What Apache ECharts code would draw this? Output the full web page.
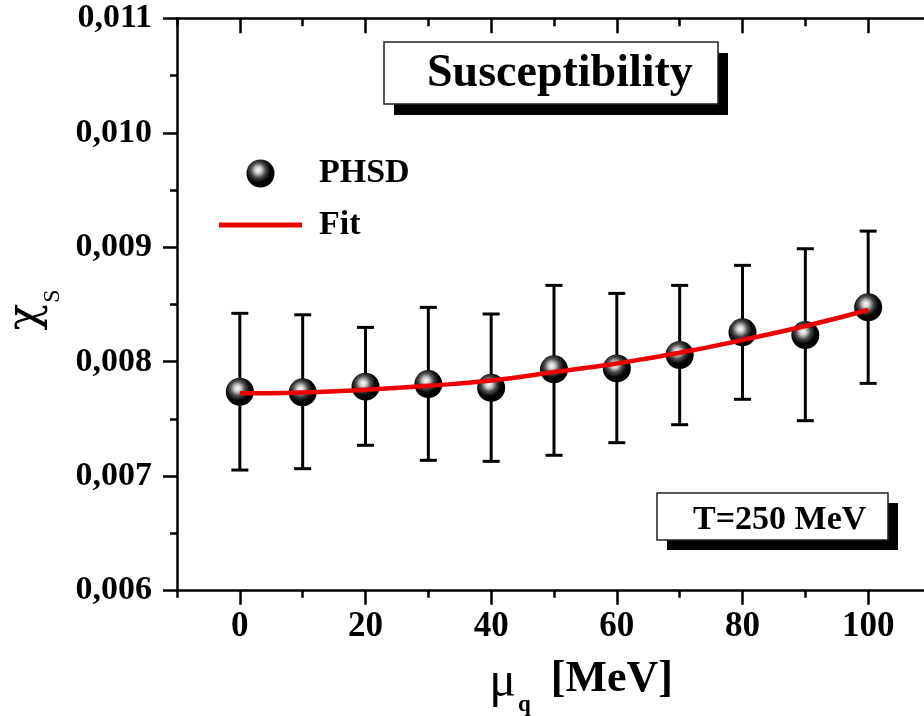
<!DOCTYPE html>
<html>
<head>
<meta charset="utf-8">
<script src="https://cdn.jsdelivr.net/npm/echarts@6/dist/echarts.min.js"></script>
<style>
html,body{margin:0;padding:0;background:#fff;}
#chart{width:924px;height:716px;}
</style>
</head>
<body>
<div id="chart"></div>
<script>
// ---- data ----
const muValues   = [0, 10, 20, 30, 40, 50, 60, 70, 80, 90, 100];
const chiValues  = [0.007738, 0.007733, 0.007782, 0.007805, 0.007773, 0.007934, 0.007942, 0.008059, 0.008257, 0.008233, 0.008475];
const errUpper   = [0.008423, 0.008410, 0.008300, 0.008475, 0.008417, 0.008667, 0.008597, 0.008667, 0.008842, 0.008987, 0.009141];
const errLower   = [0.007054, 0.007066, 0.007270, 0.007139, 0.007130, 0.007183, 0.007293, 0.007450, 0.007672, 0.007485, 0.007811];
const fitMu      = [0, 10, 20, 30, 40, 50, 60, 70, 80, 90, 100];
const fitChi     = [0.007724, 0.007732, 0.007755, 0.007790, 0.007836, 0.007910, 0.007985, 0.008078, 0.008190, 0.008312, 0.008452];
const xMajorTicks = [0, 20, 40, 60, 80, 100];
const xMinorTicks = [-10, 10, 30, 50, 70, 90];
const seriesNames = ['PHSD', 'Fit'];
const titleText = 'Susceptibility';
const tempText = 'T=250 MeV';

const FONT = "'Liberation Serif', 'Times New Roman', serif";

const scatterData = muValues.map((m, i) => [m, chiValues[i]]);
const errData = muValues.map((m, i) => [m, errLower[i], errUpper[i]]);
const fitData = fitMu.map((m, i) => [m, fitChi[i]]);

const sphere = {
  type: 'radial', x: 0.42, y: 0.38, r: 0.6,
  colorStops: [
    { offset: 0, color: '#ffffff' },
    { offset: 0.2, color: '#cccccc' },
    { offset: 0.45, color: '#4a4a4a' },
    { offset: 0.72, color: '#050505' },
    { offset: 1, color: '#000000' }
  ]
};

const X_MIN = -10, X_MAX = 110;
const axisLineStyle = { color: '#000', width: 2.5 };

const chart = echarts.init(document.getElementById('chart'), null, { renderer: 'canvas' });

chart.setOption({
  backgroundColor: '#fff',
  animation: false,
  graphic: [
    // solid drop shadows behind the two annotation boxes
    { type: 'rect', z: 0, shape: { x: 394, y: 53, width: 334, height: 62 }, style: { fill: '#000' }, silent: true },
    { type: 'rect', z: 0, shape: { x: 667, y: 503, width: 231, height: 47 }, style: { fill: '#000' }, silent: true }
  ],
  title: [
    {
      text: titleText, left: 384, top: 42, z: 10,
      padding: [9, 25, 7, 43],
      backgroundColor: '#fff', borderColor: '#222', borderWidth: 1.5,
      textStyle: { fontFamily: FONT, fontWeight: 'bold', fontSize: 46, lineHeight: 46, color: '#000' }
    },
    {
      text: tempText, left: 657, top: 493, z: 10,
      padding: [10, 22, 2, 36],
      backgroundColor: '#fff', borderColor: '#222', borderWidth: 1.5,
      textStyle: { fontFamily: FONT, fontWeight: 'bold', fontSize: 34, lineHeight: 35, color: '#000' }
    }
  ],
  legend: {
    data: [
      { name: seriesNames[0] },
      { name: seriesNames[1], icon: 'path://M0 0H83V5H0Z' }
    ],
    orient: 'vertical',
    left: 219, top: 156.5,
    padding: 0,
    itemWidth: 83, itemHeight: 28, itemGap: 17.5,
    selectedMode: false,
    textStyle: { fontFamily: FONT, fontWeight: 'bold', fontSize: 34, lineHeight: 28, color: '#000', padding: [0, 0, 0, 12] }
  },
  grid: { left: 177, top: 18.3, right: -7, bottom: 125.3, outerBoundsMode: 'none', containLabel: false },
  xAxis: [
    {
      type: 'value', position: 'bottom', min: X_MIN, max: X_MAX,
      axisLine: { show: true, onZero: false, lineStyle: axisLineStyle },
      axisTick: { show: true, inside: false, length: 14, lineStyle: { color: '#000', width: 2.5 }, customValues: xMajorTicks },
      axisLabel: { show: true, customValues: xMajorTicks, margin: 19, fontFamily: FONT, fontWeight: 'bold', fontSize: 35, lineHeight: 35, color: '#000' },
      splitLine: { show: false },
      name: '{mu|μ}{q|q}{b|[MeV]}',
      nameLocation: 'middle', nameGap: 67,
      nameTextStyle: {
        padding: [0, 0, 0, 54],
        rich: {
          mu: { fontFamily: FONT, fontSize: 50, lineHeight: 50, verticalAlign: 'top', color: '#000' },
          q: { fontFamily: FONT, fontWeight: 'bold', fontSize: 23, lineHeight: 23, padding: [36, 0, 0, 2], verticalAlign: 'top', color: '#000' },
          b: { fontFamily: FONT, fontWeight: 'bold', fontSize: 44, lineHeight: 50, padding: [0, 0, 0, 20], verticalAlign: 'top', color: '#000' }
        }
      }
    },
    {
      type: 'value', position: 'bottom', min: X_MIN, max: X_MAX,
      axisLine: { show: false, onZero: false },
      axisTick: { show: true, inside: false, length: 7, lineStyle: { color: '#000', width: 2.5 }, customValues: xMinorTicks },
      axisLabel: { show: false },
      splitLine: { show: false }
    },
    {
      type: 'value', position: 'top', min: X_MIN, max: X_MAX,
      axisLine: { show: true, onZero: false, lineStyle: axisLineStyle },
      axisTick: { show: true, inside: true, length: 15, lineStyle: { color: '#000', width: 2.5 }, customValues: xMajorTicks },
      axisLabel: { show: false },
      splitLine: { show: false }
    },
    {
      type: 'value', position: 'top', min: X_MIN, max: X_MAX,
      axisLine: { show: false, onZero: false },
      axisTick: { show: true, inside: true, length: 8, lineStyle: { color: '#000', width: 2.5 }, customValues: xMinorTicks },
      axisLabel: { show: false },
      splitLine: { show: false }
    }
  ],
  yAxis: [
    {
      type: 'value', position: 'left', min: 0.006, max: 0.011, interval: 0.001,
      axisLine: { show: true, onZero: false, lineStyle: axisLineStyle },
      axisTick: { show: true, inside: false, length: 14, lineStyle: { color: '#000', width: 2.5 } },
      minorTick: { show: true, splitNumber: 2, length: 7, lineStyle: { color: '#000', width: 2.5 } },
      axisLabel: {
        margin: 25, fontFamily: FONT, fontWeight: 'bold', fontSize: 34, color: '#000',
        formatter: v => v.toFixed(3).replace('.', ',')
      },
      splitLine: { show: false },
      name: '{chi|χ}{sub|S}',
      nameLocation: 'middle', nameRotate: 90, nameGap: 114,
      nameTextStyle: {
        rich: {
          chi: { fontFamily: "'DejaVu Serif', serif", fontSize: 44, lineHeight: 46, verticalAlign: 'top', color: '#000' },
          sub: { fontFamily: FONT, fontSize: 24, lineHeight: 24, padding: [36, 11, 0, 1], verticalAlign: 'top', color: '#000' }
        }
      }
    }
  ],
  series: [
    {
      type: 'custom', name: 'errors', xAxisIndex: 0, yAxisIndex: 0, z: 1,
      data: errData,
      encode: { x: 0, y: [1, 2] },
      renderItem: function (params, api) {
        const x = api.value(0);
        const pLo = api.coord([x, api.value(1)]);
        const pHi = api.coord([x, api.value(2)]);
        const cap = 8.5;
        const st = { stroke: '#000', lineWidth: 3 };
        return {
          type: 'group',
          children: [
            { type: 'line', shape: { x1: pLo[0], y1: pLo[1], x2: pHi[0], y2: pHi[1] }, style: st },
            { type: 'line', shape: { x1: pHi[0] - cap, y1: pHi[1], x2: pHi[0] + cap, y2: pHi[1] }, style: st },
            { type: 'line', shape: { x1: pLo[0] - cap, y1: pLo[1], x2: pLo[0] + cap, y2: pLo[1] }, style: st }
          ]
        };
      }
    },
    {
      type: 'scatter', name: seriesNames[0], xAxisIndex: 0, yAxisIndex: 0, z: 2,
      data: scatterData,
      symbol: 'circle', symbolSize: 28,
      itemStyle: { color: sphere, opacity: 1 },
      emphasis: { disabled: true }
    },
    {
      type: 'line', name: seriesNames[1], xAxisIndex: 0, yAxisIndex: 0, z: 3,
      data: fitData,
      smooth: true, symbol: 'none', showSymbol: false,
      lineStyle: { color: '#ee0000', width: 4.5 },
      itemStyle: { color: '#ee0000' },
      emphasis: { disabled: true }
    }
  ]
});
</script>
</body>
</html>
